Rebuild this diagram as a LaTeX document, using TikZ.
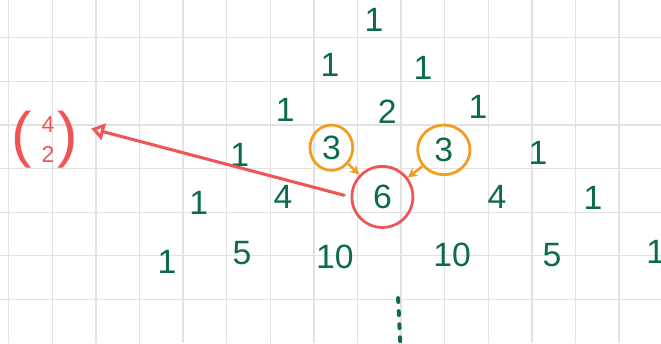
\documentclass[tikz,border=0pt]{standalone}
\usepackage{fontspec}
\setmainfont{Liberation Sans}
\usetikzlibrary{arrows.meta,calc,shapes.geometric}
\definecolor{ptgreen}{HTML}{0B6B4B}
\definecolor{ptorange}{HTML}{F39C1F}
\definecolor{ptred}{HTML}{EF5555}
\definecolor{ptgrid}{HTML}{E2E2E2}
\newcommand\ptparen[1]{{\fontsize{40}{40}\selectfont#1}}
\tikzset{
  pt grid/.style={draw=ptgrid, line width=0.9pt},
  pt num/.style={text=ptgreen, font=\fontsize{22}{24}\selectfont, inner sep=0pt},
  pt ring/.style={pt num, draw=ptorange, line width=1.8pt, ellipse},
  pt pick/.style={pt num, draw=ptred, line width=1.8pt, circle, minimum size=14mm},
  pt add/.style={-{Stealth[length=2.2mm,width=2.2mm]}, line width=1.6pt, draw=ptorange},
  pt arrow/.style={-{Triangle[open,length=3mm,width=3.8mm]}, line width=2pt,
    draw=ptred, line cap=round},
  pt binom/.style={text=ptred, font=\fontsize{15}{19.5}\selectfont, inner sep=0pt},
  pt dots/.style={draw=ptgreen, line width=2.6pt, line cap=round,
    dash pattern=on 0.9mm off 2.1mm}
}

\begin{document}
\begin{tikzpicture}[x=1cm, y=1cm]
  \useasboundingbox (0,0) rectangle (15.16,7.867);
  % squared paper
  \foreach \x in {0,...,14}
    \draw[pt grid] (0.2+\x,0) -- (0.2+\x,7.867);
  \foreach \y in {1,...,7}
    \draw[pt grid] (0,\y) -- (15.16,\y);

  % rows of the triangle
  \node[pt num] (a00) at (8.58,7.41) {1};
  \node[pt num] (a10) at (7.57,6.38) {1};
  \node[pt num] (a11) at (9.70,6.31) {1};
  \node[pt num] (a20) at (6.54,5.34) {1};
  \node[pt num] (a21) at (8.88,5.30) {2};
  \node[pt num] (a22) at (10.96,5.41) {1};
  \node[pt num] (a30) at (5.50,4.31) {1};
  \node[pt ring, minimum width=9.8mm, minimum height=10.4mm] (a31) at (7.60,4.48) {3};
  \node[pt ring, minimum width=12mm, minimum height=11.4mm] (a32) at (10.18,4.43) {3};
  \node[pt num] (a33) at (12.34,4.36) {1};
  \node[pt num] (a40) at (4.56,3.21) {1};
  \node[pt num] (a41) at (6.49,3.35) {4};
  \node[pt pick] (a42) at (8.77,3.35) {6};
  \node[pt num] (a43) at (11.40,3.35) {4};
  \node[pt num] (a44) at (13.60,3.33) {1};
  \node[pt num] (a50) at (3.83,1.86) {1};
  \node[pt num] (a51) at (5.55,2.06) {5};
  \node[pt num] (a52) at (7.68,1.97) {10};
  \node[pt num] (a53) at (10.37,2.02) {10};
  \node[pt num] (a54) at (12.66,2.02) {5};
  \node[pt num] (a55) at (15.04,2.09) {1};
  \draw[pt dots] (9.13,1.03) -- (9.19,-0.2);

  % binomial coefficient
  \node[pt binom] (binom) at (1.03,4.63)
    {\ptparen(\kern6pt\raisebox{6pt}{\begin{tabular}{@{}c@{}}4\\2\end{tabular}}\kern2pt\ptparen)};

  \draw[pt add] (a31) -- (a42);
  \draw[pt add] (a32) -- (a42);
  \draw[pt arrow, shorten <=1.5mm] (a42.west) -- ($(binom.center)+(1.06,0.29)$);
\end{tikzpicture}
\end{document}
